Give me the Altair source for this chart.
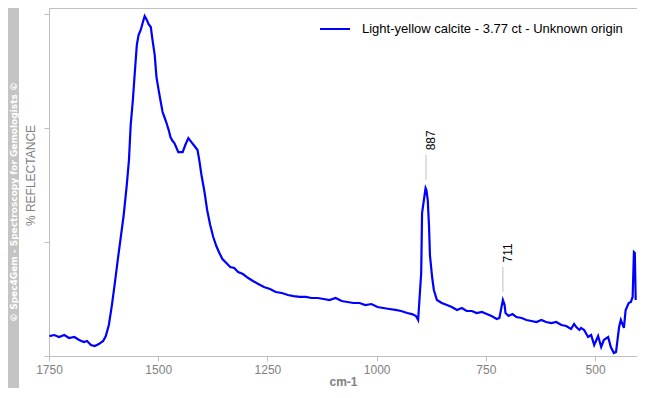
import altair as alt
import pandas as pd

# Spectrum trace (wavenumber in cm-1, relative reflectance)
wavenumber = [1749, 1738, 1727, 1715, 1704, 1692, 1681, 1670, 1663, 1654,
              1645, 1636, 1626, 1620, 1613, 1606, 1599, 1592, 1586, 1579,
              1572, 1567, 1563, 1558, 1554, 1549, 1545, 1540, 1535, 1531,
              1526, 1522, 1517, 1513, 1508, 1504, 1499, 1495, 1490, 1485,
              1481, 1476, 1472, 1467, 1463, 1458, 1454, 1444, 1438, 1431,
              1424, 1417, 1410, 1406, 1401, 1394, 1388, 1381, 1374, 1367,
              1360, 1353, 1344, 1335, 1326, 1317, 1306, 1294, 1283, 1271,
              1258, 1244, 1231, 1217, 1203, 1190, 1176, 1162, 1149, 1135,
              1121, 1108, 1094, 1080, 1067, 1053, 1039, 1026, 1012, 998,
              985, 971, 957, 944, 930, 919, 910, 905, 901, 898,
              896, 888, 886, 883, 880, 878, 873, 869, 862, 851,
              839, 828, 816, 805, 794, 782, 771, 759, 748, 737,
              725, 719, 711, 707, 705, 698, 689, 680, 668, 657,
              646, 634, 623, 612, 600, 589, 577, 566, 555, 548,
              543, 536, 532, 525, 516, 509, 502, 493, 486, 480,
              470, 464, 457, 452, 445, 441, 434, 430, 423, 418,
              414, 411, 409, 407]
reflectance = [1.75, 1.84, 1.67, 1.84, 1.58, 1.67, 1.40, 1.23, 1.32, 0.96,
               0.88, 1.05, 1.32, 1.75, 2.72, 4.47, 6.49, 8.60, 10.35, 12.37,
               15.0, 17.19, 20.26, 22.46, 24.65, 27.28, 28.16, 28.60, 29.30, 29.82,
               29.47, 29.12, 28.86, 27.72, 26.40, 24.47, 23.33, 22.46, 21.40, 20.88,
               20.44, 19.82, 19.21, 18.86, 18.68, 18.25, 17.89, 17.89, 18.51, 19.12,
               18.77, 18.42, 18.07, 17.19, 15.88, 14.39, 12.81, 11.49, 10.44, 9.65,
               9.04, 8.51, 8.16, 7.81, 7.72, 7.37, 7.19, 6.84, 6.58, 6.32,
               6.05, 5.88, 5.61, 5.53, 5.35, 5.26, 5.18, 5.18, 5.09, 5.09,
               5.00, 4.91, 5.09, 4.82, 4.74, 4.65, 4.65, 4.47, 4.56, 4.30,
               4.21, 4.12, 4.04, 3.95, 3.77, 3.68, 3.51, 3.16, 5.53, 7.28,
               12.54, 14.74, 14.56, 13.68, 11.32, 8.86, 6.93, 5.79, 4.91, 4.65,
               4.47, 4.30, 4.04, 4.21, 3.95, 3.95, 3.77, 3.86, 3.68, 3.51,
               3.25, 3.33, 4.91, 4.47, 3.77, 3.51, 3.68, 3.42, 3.33, 3.16,
               3.07, 2.98, 3.16, 2.98, 2.89, 2.98, 2.72, 2.63, 2.37, 2.81,
               2.54, 2.28, 2.46, 2.28, 1.67, 1.84, 0.96, 1.75, 0.79, 1.40,
               1.67, 0.79, 0.26, 0.35, 2.54, 3.16, 2.46, 4.04, 4.65, 4.74,
               5.18, 9.12, 9.04, 4.91]

peak_labels = ["887", "711"]
peak_positions = [887, 711]
peak_heights = [14.74, 4.91]

x_ticks = [1750, 1500, 1250, 1000, 750, 500]
y_ticks = [0, 10, 20, 30]

legend_label = "Light-yellow calcite - 3.77 ct - Unknown origin"
copyright_text = "© Spec4Gem - Spectroscopy for Gemologists ©"

GRAY = "#808080"
FRAME = "#c0c0c0"
FONT = "Liberation Sans"

spec = pd.DataFrame({"wn": wavenumber, "r": reflectance})
peaks = pd.DataFrame({
    "wn": peak_positions,
    "label": peak_labels,
    "y1": [h + 0.7 for h in peak_heights],
    "y2": [h + 2.9 for h in peak_heights],
    "yt": [h + 3.3 for h in peak_heights],
})

x_scale = alt.Scale(domain=[404, 1750], reverse=True, nice=False, zero=False)
y_scale = alt.Scale(domain=[0, 30.53], nice=False, zero=True)

line = alt.Chart(spec).mark_line(color="#0000ff", strokeWidth=2.2, clip=True).encode(
    x=alt.X("wn:Q", scale=x_scale,
            axis=alt.Axis(values=x_ticks, format="d", title="cm-1", grid=False,
                          tickColor=FRAME, tickSize=5, domainColor=FRAME,
                          labelColor=GRAY, labelFont=FONT, labelFontSize=12,
                          labelPadding=3, labelFlush=False,
                          titleColor=GRAY, titleFont=FONT, titleFontSize=12,
                          titleFontWeight="bold", titlePadding=1)),
    y=alt.Y("r:Q", scale=y_scale,
            axis=alt.Axis(values=y_ticks, labels=False, grid=False,
                          tickColor=FRAME, tickSize=5, domainColor=FRAME,
                          title="% REFLECTANCE", titleColor=GRAY, titleFont=FONT,
                          titleFontSize=12, titleFontWeight="normal",
                          titleAngle=270, titleX=-19, titleY=167,
                          titleAlign="center", titleBaseline="middle")),
)

peak_rules = alt.Chart(peaks).mark_rule(color=FRAME, strokeWidth=1).encode(
    x="wn:Q", y="y1:Q", y2="y2:Q"
)
peak_text = alt.Chart(peaks).mark_text(
    angle=270, align="left", baseline="middle", dy=5,
    font=FONT, fontSize=12, color="#000000"
).encode(x="wn:Q", y="yt:Q", text="label:N")

legend_line = alt.Chart(pd.DataFrame({"k": [0]})).mark_rule(
    color="#0000ff", strokeWidth=2
).encode(x=alt.value(271), x2=alt.value(301), y=alt.value(21))
legend_text = alt.Chart(pd.DataFrame({"k": [0]})).mark_text(
    align="left", baseline="middle", font=FONT, fontSize=13, color="#000000"
).encode(x=alt.value(313), y=alt.value(21), text=alt.value(legend_label))

side_rect = alt.Chart(pd.DataFrame({"k": [0]})).mark_rect(color="#c4c4c4").encode(
    x=alt.value(-41), x2=alt.value(-30), y=alt.value(0), y2=alt.value(392)
)
side_text = alt.Chart(pd.DataFrame({"k": [0]})).mark_text(
    angle=270, align="center", baseline="middle", font="DejaVu Sans", fontSize=9,
    fontWeight="bold", color="#ffffff"
).encode(x=alt.value(-35.5), y=alt.value(194), text=alt.value(copyright_text))

chart = alt.layer(
    side_rect, side_text, line, peak_rules, peak_text, legend_line, legend_text
).properties(
    width=588, height=348,
    autosize=alt.AutoSizeParams(type="none"),
    padding={"left": 41, "top": 0, "right": 0, "bottom": 32},
    background="white",
).configure_view(stroke=FRAME, strokeWidth=1)

chart.save("out.html", embed_options={"renderer": "svg", "actions": False})
